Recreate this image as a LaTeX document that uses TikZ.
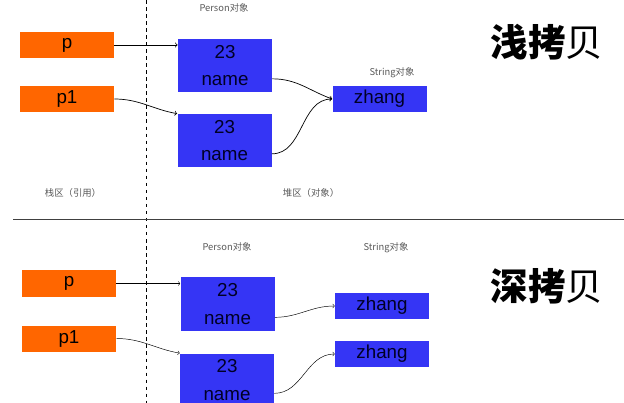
\documentclass[tikz,border=0pt]{standalone}
\usepackage{fontspec}
\setmainfont{Liberation Sans}
\newfontfamily\cjk{Noto Sans CJK SC}
\usetikzlibrary{arrows,positioning}
\definecolor{refcol}{HTML}{FF6600}
\definecolor{objcol}{HTML}{3535F5}

\begin{document}
\begin{tikzpicture}[->,>=to,x=0.03cm,y=-0.03cm,semithick]
  \tikzstyle{ref}=[draw=none,fill=refcol,text=black,minimum width=2.82cm,minimum height=0.78cm,inner sep=0pt,font=\fontsize{16}{19}\selectfont]
  \tikzstyle{obj}=[draw=none,fill=objcol,text=black!85!blue,minimum width=2.82cm,minimum height=1.59cm,inner sep=0pt,align=center,font=\fontsize{16}{23.5}\selectfont]
  \tikzstyle{strobj}=[obj,minimum height=0.78cm]
  \tikzstyle{lbl}=[text=black!65,font=\fontsize{8}{9}\cjk]
  \tikzstyle{title}=[font=\fontsize{32}{34}\cjk]

  \useasboundingbox (0,0) rectangle (624,403);
  \draw[-,dashed,thin] (146,0) -- (146,403);
  \draw[-,black!75,thin] (13,219) -- (624,219);

  % shallow copy
  \node[ref]    (sp)       at (67,45)     {p};
  \node[ref]    (sp1)      at (67,99)     {p1};
  \node[obj]    (sperson1) at (225,65.5)  {23\\name};
  \node[obj]    (sperson2) at (224.5,140.5) {23\\name};
  \node[strobj] (sstr)     at (379.5,99)  {zhang};
  \node[lbl]    (sperlbl)  at (224,8)     {Person对象};
  \node[lbl]    (sstrlbl)  at (392,73)    {String对象};
  \node[lbl]    (stack)    at (73,193)    {栈区（引用）};
  \node[lbl]    (heap)     at (311,193)   {堆区（对象）};
  \node[title]  (stitle)   at (547,42)    {{\bfseries 浅拷}贝};

  \path
  (sp.east) edge (sp.east -| sperson1.west)
  (sp1.east) edge [out=0,in=170] (sperson2.north west)
  ([yshift=-0.4cm]sperson1.east) edge [out=0,in=160] (sstr.west)
  ([yshift=-0.4cm]sperson2.east) edge [out=0,in=180] (sstr.west);

  % deep copy
  \node[ref]    (dp)       at (69,283.5)  {p};
  \node[ref]    (dp1)      at (69,338.5)  {p1};
  \node[obj]    (dperson1) at (227.5,304) {23\\name};
  \node[obj]    (dperson2) at (227,380)   {23\\name};
  \node[strobj] (dstr1)    at (382,306)   {zhang};
  \node[strobj] (dstr2)    at (382,354)   {zhang};
  \node[lbl]    (dperlbl)  at (227,247)   {Person对象};
  \node[lbl]    (dstrlbl)  at (386,248)   {String对象};
  \node[title]  (dtitle)   at (547,286)   {{\bfseries 深拷}贝};

  \path[thin]
  (dp.east) edge (dp.east -| dperson1.west)
  (dp1.east) edge [out=0,in=170] (dperson2.north west)
  ([yshift=-0.4cm]dperson1.east) edge [out=0,in=180] (dstr1.west)
  ([yshift=-0.4cm]dperson2.east) edge [out=0,in=180] (dstr2.west);
\end{tikzpicture}
\end{document}
